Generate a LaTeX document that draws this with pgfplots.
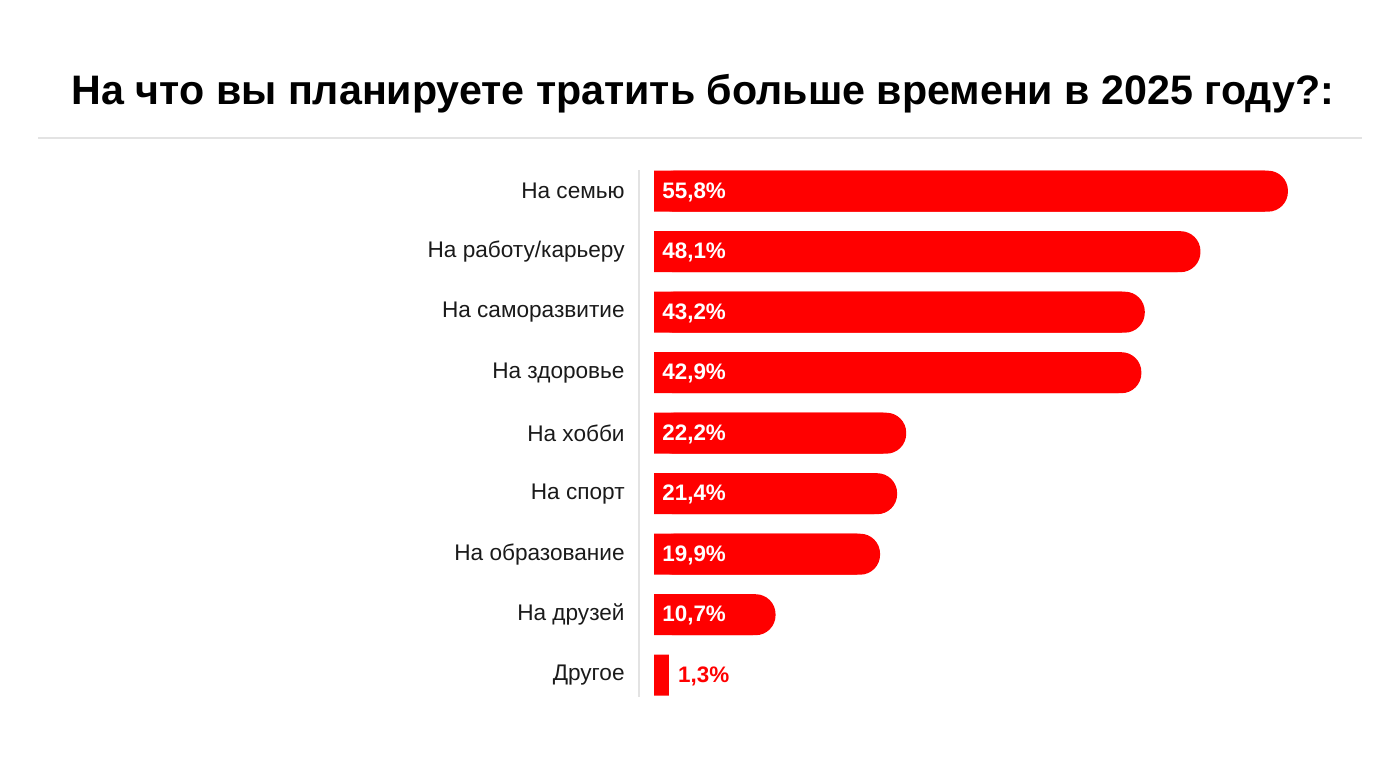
\documentclass[border=0pt]{standalone}
\usepackage{fontspec}
\setmainfont{Liberation Sans}
\usepackage{pgfplots}
\pgfplotsset{compat=1.18}
\usepackage{pgfplotstable}
\definecolor{barred}{HTML}{FF0000}
\definecolor{rulegray}{HTML}{E3E3E3}
\definecolor{txt}{HTML}{1A1A1A}

% i = row (top to bottom), v = share in %
\pgfplotstableread{
i v
0 55.8
1 48.1
2 43.2
3 42.9
4 22.2
5 21.4
6 19.9
7 10.7
8 1.3
}\answers

\begin{document}
\begin{tikzpicture}
  \useasboundingbox (0pt,0pt) rectangle (700pt,390pt);
  \node[anchor=base, font=\bfseries\fontsize{20.6}{25}\selectfont] at (351.5pt,337.5pt)
    {На что вы планируете тратить больше времени в 2025 году?:};
  \draw[rulegray, line width=1pt] (19pt,321pt) -- (681pt,321pt);
  \begin{axis}[
      at={(319.5pt,41.5pt)}, anchor=south west,
      scale only axis,
      width=361.5pt, height=263.5pt,
      xmin=-1.32, xmax=62.32,
      ymin=-0.35, ymax=8.36,
      y dir=reverse,
      axis x line=none,
      axis y line=left,
      axis line style={-},
      y axis line style={rulegray, line width=1pt},
      ytick={0,...,8},
      yticklabels={На семью, На работу/карьеру, На саморазвитие, На здоровье,
        На хобби, На спорт, На образование, На друзей, Другое},
      major tick length=0pt,
      ytick style={draw=none},
      yticklabel style={font=\fontsize{11.3}{13}\selectfont, text=txt,
        inner sep=0pt, xshift=-7pt},
      clip=false,
      /pgf/number format/assume math mode=true,
    ]
    % rounded bars
    \addplot[xbar, bar shift=0pt, bar width=20.5pt, fill=barred, draw=none,
      rounded corners=10pt, skip coords between index={8}{9}]
      table[x=v, y=i]{\answers};
    % square left part of the bars
    \addplot[xbar, bar shift=0pt, bar width=20.5pt, fill=barred, draw=none,
      x filter/.expression={x>3 ? x-2 : x}]
      table[x=v, y=i]{\answers};
    % value labels inside the bars
    \addplot[only marks, mark=none, point meta=explicit,
      skip coords between index={8}{9},
      nodes near coords={\pgfmathprintnumber[fixed,fixed zerofill,precision=1,use comma]{\pgfplotspointmeta}\%},
      every node near coord/.style={anchor=west, xshift=4pt, yshift=-0.5pt, inner sep=0pt,
        text=white, font=\bfseries\fontsize{11.2}{13}\selectfont}]
      table[x expr=0, y=i, meta=v]{\answers};
    % label of the short bar, outside it
    \addplot[only marks, mark=none, point meta=explicit,
      skip coords between index={0}{8},
      nodes near coords={\pgfmathprintnumber[fixed,fixed zerofill,precision=1,use comma]{\pgfplotspointmeta}\%},
      every node near coord/.style={anchor=west, xshift=4.5pt, yshift=-0.5pt, inner sep=0pt,
        text=barred, font=\bfseries\fontsize{11.2}{13}\selectfont}]
      table[x=v, y=i, meta=v]{\answers};
  \end{axis}
\end{tikzpicture}
\end{document}
